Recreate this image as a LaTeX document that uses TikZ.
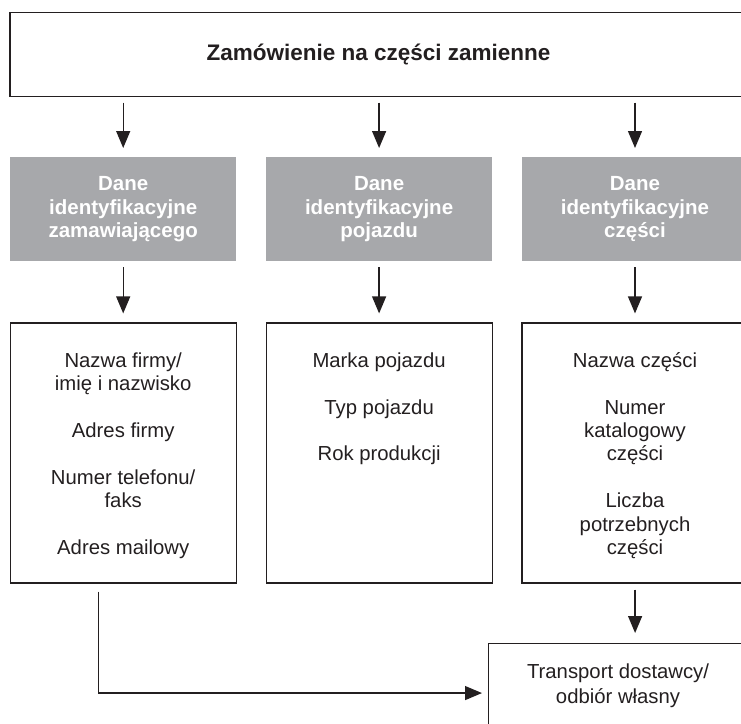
\documentclass[tikz,border=0pt]{standalone}
\usepackage{fontspec}
\setmainfont{Liberation Sans}
\usetikzlibrary{arrows.meta,positioning}
\definecolor{boxgrey}{RGB}{167,168,171}
\definecolor{ink}{RGB}{35,31,32}

\begin{document}
\begin{tikzpicture}[
  x=1pt, y=-1pt,
  node distance=29.5pt,
  every node/.style={text=ink},
  plainbox/.style={draw=ink, line width=1.1pt, minimum width=226pt, inner sep=0pt},
  titlebox/.style={plainbox, minimum width=737pt, minimum height=83.3pt, font=\fontsize{22.5}{26}\selectfont\bfseries},
  greybox/.style={fill=boxgrey, minimum width=226pt, minimum height=104pt, align=center, text=white, font=\fontsize{20.5}{23.5}\selectfont\bfseries},
  listbox/.style={plainbox, minimum height=260pt},
  listtext/.style={align=center, inner sep=0pt, font=\fontsize{20.3}{23.3}\selectfont},
  endbox/.style={plainbox, minimum width=259pt, minimum height=84pt, align=center, font=\fontsize{20.3}{25}\selectfont},
  arrow/.style={draw=ink, line width=1.3pt, -{Triangle[length=17pt,width=14pt]}}
]
\useasboundingbox (0,0) rectangle (741,723);
\clip (0,0) rectangle (741,723);

\node[titlebox] (order) at (378.5,54.4) {Zamówienie na części zamienne};

% three data groups
\node[greybox, anchor=north west] (g1) at (10,157) {Dane\\identyfikacyjne\\zamawiającego};
\node[greybox, right=of g1] (g2) {Dane\\identyfikacyjne\\pojazdu};
\node[greybox, right=of g2] (g3) {Dane\\identyfikacyjne\\części};

\node[listbox, below=61pt of g1] (l1) {};
\node[listbox, below=61pt of g2] (l2) {};
\node[listbox, below=61pt of g3] (l3) {};

\node[listtext, below=30pt of l1.north] (t1) {Nazwa firmy/\\imię i nazwisko\\[23.5pt]Adres firmy\\[23.5pt]Numer telefonu/\\faks\\[23.5pt]Adres mailowy};
\node[listtext, below=30pt of l2.north] (t2) {Marka pojazdu\\[23.5pt]Typ pojazdu\\[23.5pt]Rok produkcji};
\node[listtext, below=30pt of l3.north] (t3) {Nazwa części\\[23.5pt]Numer\\katalogowy\\części\\[23.5pt]Liczba\\potrzebnych\\części};

\node[endbox, anchor=north west] (trans) at (488,643) {Transport dostawcy/\\odbiór własny};

\foreach \n in {1,2,3} {
  \draw[arrow, shorten <=6pt, shorten >=9pt] (order.south -| g\n.north) -- (g\n.north);
  \draw[arrow, shorten <=6pt, shorten >=9pt] (g\n.south) -- (l\n.north);
}
\draw[arrow, shorten <=6pt, shorten >=10pt] (l3.south -| trans.north east) ++(-113,0) coordinate (s3) -- (s3 |- trans.north);
\draw[arrow, shorten <=8pt, shorten >=6pt] ([xshift=-25pt]l1.south) |- ([yshift=-7.5pt]trans.west);

\end{tikzpicture}
\end{document}
